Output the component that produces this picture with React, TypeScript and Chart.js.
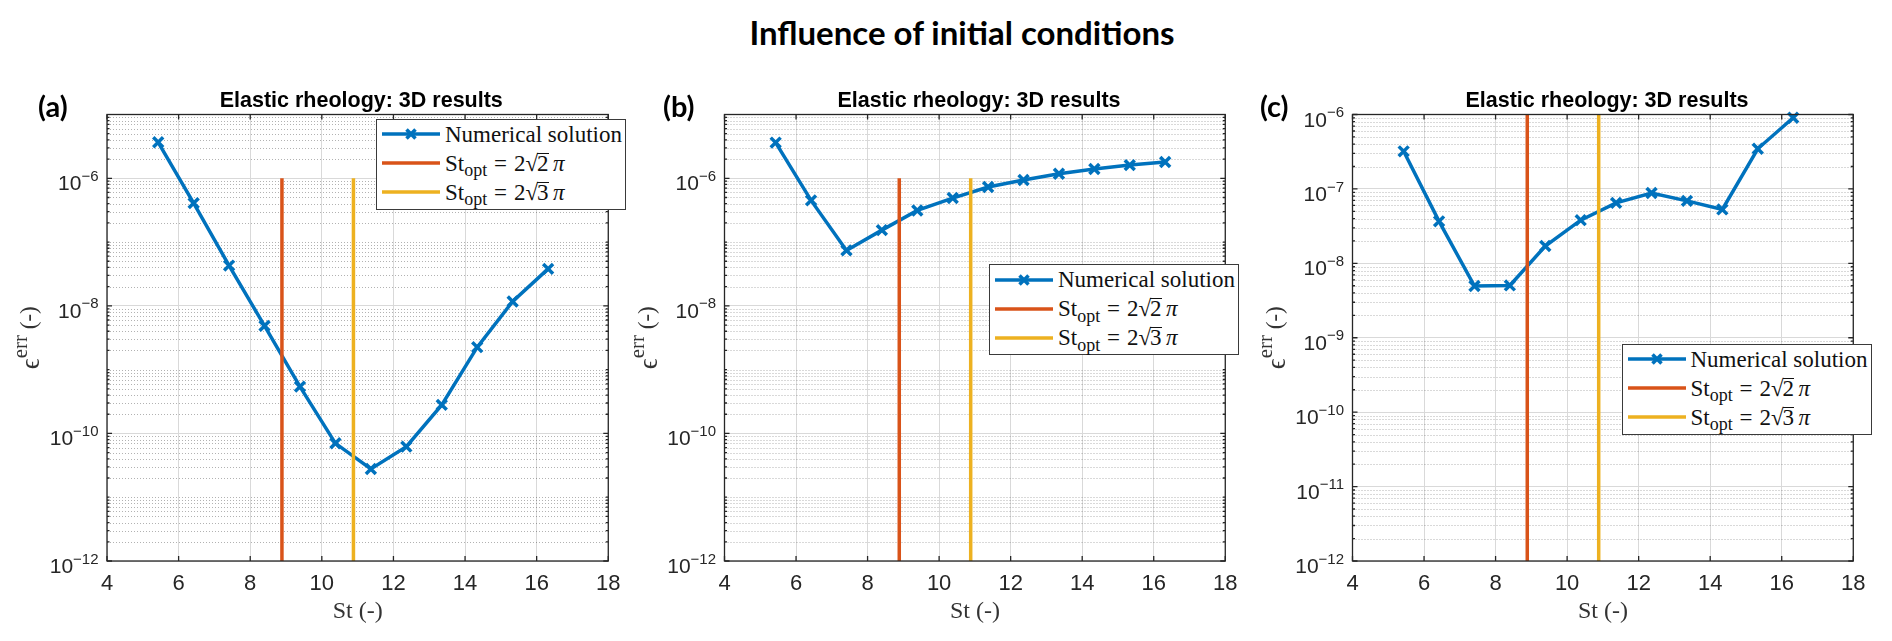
import React, { useEffect, useRef } from "react";
import { Chart, registerables } from "chart.js";

Chart.register(...registerables);

// ---------------- data ----------------
const stValues = [5.43, 6.42, 7.41, 8.4, 9.39, 10.38, 11.37, 12.36, 13.35, 14.34, 15.33, 16.32];
const errA = [3.67e-6, 4.08e-7, 4.28e-8, 4.85e-9, 5.42e-10, 7.0e-11, 2.77e-11, 6.2e-11, 2.8e-10, 2.25e-9, 1.17e-8, 3.8e-8];
const errB = [3.63e-6, 4.5e-7, 7.4e-8, 1.54e-7, 3.13e-7, 4.9e-7, 7.3e-7, 9.4e-7, 1.18e-6, 1.4e-6, 1.61e-6, 1.8e-6];
const errC = [3.2e-7, 3.67e-8, 4.95e-9, 5.05e-9, 1.71e-8, 3.8e-8, 6.5e-8, 8.8e-8, 6.9e-8, 5.3e-8, 3.46e-7, 9.05e-7];
const stOptSqrt2 = 8.886; // 2*sqrt(2)*pi
const stOptSqrt3 = 10.883; // 2*sqrt(3)*pi
const optLineBottom = 1e-12;
const optLineTop = 1e-6;

const xTickValues = [4, 6, 8, 10, 12, 14, 16, 18];
const yTicksEven = [1e-12, 1e-10, 1e-8, 1e-6];
const yTickExpEven = ["\u221212", "\u221210", "\u22128", "\u22126"];
const yTicksAll = [1e-12, 1e-11, 1e-10, 1e-9, 1e-8, 1e-7, 1e-6];
const yTickExpAll = ["\u221212", "\u221211", "\u221210", "\u22129", "\u22128", "\u22127", "\u22126"];

const mainTitle = "Influence of initial conditions";
const subplotTitle = "Elastic rheology: 3D results";
const panelLabels = ["(a)", "(b)", "(c)"];
const xAxisTitle = "St (-)";
const legendNumerical = "Numerical solution";
const legendRoots = ["2", "3"];

// ---------------- layout / style ----------------
const BLUE = "#0072BD";
const RED = "#D95319";
const YELLOW = "#EDB120";
const AXIS = "#262626";
const PLOT_TOP = 114.5;
const PLOT_BOTTOM = 561;
const CANVAS_TOP = 60;
const CANVAS_H = 581;
const CANVAS_W = 630;

type PanelSpec = {
  err: number[];
  yMax: number;
  yTicks: number[];
  yExp: string[];
  plotLeft: number;
  plotRight: number;
  canvasLeft: number;
  legendLeft: number;
  legendTop: number;
  labelLeft: number;
};

const PANELS: PanelSpec[] = [
  { err: errA, yMax: 1e-5, yTicks: yTicksEven, yExp: yTickExpEven, plotLeft: 107, plotRight: 615.5, canvasLeft: 0, legendLeft: 376, legendTop: 118.5, labelLeft: 38 },
  { err: errB, yMax: 1e-5, yTicks: yTicksEven, yExp: yTickExpEven, plotLeft: 724.5, plotRight: 1233.5, canvasLeft: 617, legendLeft: 989, legendTop: 264, labelLeft: 663 },
  { err: errC, yMax: 1e-6, yTicks: yTicksAll, yExp: yTickExpAll, plotLeft: 1352.5, plotRight: 1861.5, canvasLeft: 1245, legendLeft: 1621.5, legendTop: 343.5, labelLeft: 1260 },
];

function minorValues(minV: number, maxV: number, majors: number[]): number[] {
  const out: number[] = [];
  const e0 = Math.round(Math.log10(minV));
  const e1 = Math.round(Math.log10(maxV));
  for (let e = e0; e < e1; e++) {
    for (let k = 1; k < 10; k++) {
      const v = k * Math.pow(10, e);
      if (!majors.some((m) => Math.abs(m - v) / v < 1e-6)) out.push(v);
    }
  }
  return out;
}

const decorPlugin = {
  id: "decor",
  beforeDatasetsDraw(chart: any, _a: any, opts: any) {
    const { ctx, chartArea: a } = chart;
    const y = chart.scales.y;
    ctx.save();
    ctx.strokeStyle = "rgba(0,0,0,0.3)";
    ctx.lineWidth = 1;
    ctx.setLineDash([1, 2]);
    for (const v of opts.minor) {
      const py = Math.round(y.getPixelForValue(v)) + 0.5;
      ctx.beginPath();
      ctx.moveTo(a.left, py);
      ctx.lineTo(a.right, py);
      ctx.stroke();
    }
    ctx.restore();
  },
  afterDraw(chart: any, _a: any, opts: any) {
    const { ctx, chartArea: a } = chart;
    const x = chart.scales.x;
    const y = chart.scales.y;
    ctx.save();
    ctx.setLineDash([]);
    ctx.strokeStyle = AXIS;
    ctx.lineWidth = 1.3;
    ctx.strokeRect(a.left, a.top, a.right - a.left, a.bottom - a.top);
    ctx.beginPath();
    for (const v of opts.xTicks) {
      const px = x.getPixelForValue(v);
      ctx.moveTo(px, a.bottom);
      ctx.lineTo(px, a.bottom - 5);
      ctx.moveTo(px, a.top);
      ctx.lineTo(px, a.top + 5);
    }
    for (const v of opts.yTicks) {
      const py = y.getPixelForValue(v);
      ctx.moveTo(a.left, py);
      ctx.lineTo(a.left + 5, py);
      ctx.moveTo(a.right, py);
      ctx.lineTo(a.right - 5, py);
    }
    for (const v of opts.minor) {
      const py = y.getPixelForValue(v);
      ctx.moveTo(a.left, py);
      ctx.lineTo(a.left + 2.5, py);
      ctx.moveTo(a.right, py);
      ctx.lineTo(a.right - 2.5, py);
    }
    ctx.stroke();

    // y tick labels 10^n
    ctx.fillStyle = AXIS;
    ctx.textAlign = "right";
    ctx.textBaseline = "alphabetic";
    opts.yTicks.forEach((v: number, i: number) => {
      const py = y.getPixelForValue(v);
      const exp = opts.yExp[i];
      const xr = a.left - 8.5;
      ctx.font = '15px "Liberation Sans", Arial, sans-serif';
      ctx.fillText(exp, xr, py + 2.6);
      const ew = ctx.measureText(exp).width;
      ctx.font = '21px "Liberation Sans", Arial, sans-serif';
      ctx.fillText("10", xr - ew, py + 12);
    });

    // y axis title: eps^err (-)
    const cx = a.left - 77;
    const cy = (a.top + a.bottom) / 2;
    ctx.translate(cx, cy);
    ctx.rotate(-Math.PI / 2);
    ctx.textAlign = "left";
    ctx.textBaseline = "middle";
    ctx.fillStyle = "#333";
    const parts = [
      { t: "\u03F5", f: '27px "Liberation Serif", "DejaVu Serif", serif', dy: 2 },
      { t: "err", f: '21px "Liberation Serif", "DejaVu Serif", serif', dy: -9 },
      { t: " (-)", f: '23px "Liberation Serif", "DejaVu Serif", serif', dy: 0 },
    ];
    let total = 0;
    const widths = parts.map((p) => {
      ctx.font = p.f;
      const w = ctx.measureText(p.t).width;
      total += w;
      return w;
    });
    let px = -total / 2;
    parts.forEach((p, i) => {
      ctx.font = p.f;
      ctx.fillText(p.t, px, p.dy);
      px += widths[i];
    });
    ctx.restore();
  },
};

function LegendSample({ color, marker }: { color: string; marker?: boolean }) {
  return (
    <svg width={58} height={16} style={{ display: "block", flex: "none" }}>
      <line x1={0} y1={8} x2={58} y2={8} stroke={color} strokeWidth={3.5} />
      {marker && (
        <g stroke={color} strokeWidth={3.5}>
          <line x1={24.5} y1={3.5} x2={33.5} y2={12.5} />
          <line x1={24.5} y1={12.5} x2={33.5} y2={3.5} />
        </g>
      )}
    </svg>
  );
}

function OptLabel({ root }: { root: string }) {
  return (
    <span style={{ whiteSpace: "nowrap" }}>
      St
      <span style={{ fontSize: "0.78em", position: "relative", top: "0.32em" }}>opt</span>
      <span style={{ margin: "0 0.3em" }}>=</span>
      2
      <span>{"\u221A"}</span>
      <span style={{ display: "inline-block", borderTop: "1.4px solid #111", lineHeight: "0.82em", paddingTop: 1, marginLeft: -1 }}>{root}</span>
      <span style={{ fontStyle: "italic", marginLeft: "0.2em" }}>{"\u03C0"}</span>
    </span>
  );
}

function Legend({ left, top }: { left: number; top: number }) {
  const row: React.CSSProperties = { height: 29, display: "flex", alignItems: "center" };
  const text: React.CSSProperties = { marginLeft: 5, lineHeight: 1, whiteSpace: "nowrap" };
  return (
    <div
      style={{
        position: "absolute",
        left,
        top,
        width: 250,
        height: 91,
        boxSizing: "border-box",
        border: "1px solid #3a3a3a",
        background: "#fff",
        paddingLeft: 5,
        fontFamily: '"Liberation Serif", "Times New Roman", serif',
        fontSize: 23,
        color: "#111",
      }}
    >
      <div style={row}>
        <LegendSample color={BLUE} marker />
        <span style={text}>{legendNumerical}</span>
      </div>
      <div style={row}>
        <LegendSample color={RED} />
        <span style={text}>
          <OptLabel root={legendRoots[0]} />
        </span>
      </div>
      <div style={row}>
        <LegendSample color={YELLOW} />
        <span style={text}>
          <OptLabel root={legendRoots[1]} />
        </span>
      </div>
    </div>
  );
}

function Panel({ spec, index }: { spec: PanelSpec; index: number }) {
  const ref = useRef<HTMLCanvasElement>(null);
  useEffect(() => {
    const yWidth = spec.plotLeft - spec.canvasLeft;
    const plotW = spec.plotRight - spec.plotLeft;
    const padTop = PLOT_TOP - CANVAS_TOP;
    const xHeight = CANVAS_H - (PLOT_BOTTOM - CANVAS_TOP);
    const padRight = CANVAS_W - yWidth - plotW;
    const minor = minorValues(1e-12, spec.yMax, spec.yTicks);
    const chart = new Chart(ref.current!, {
      type: "line",
      data: {
        datasets: [
          {
            label: legendNumerical,
            data: stValues.map((s, i) => ({ x: s, y: spec.err[i] })),
            borderColor: BLUE,
            backgroundColor: BLUE,
            borderWidth: 3.5,
            pointStyle: "crossRot",
            pointRadius: 7,
            pointBorderWidth: 3.5,
            pointBorderColor: BLUE,
            clip: false as any,
            order: 3,
          },
          {
            label: "St_opt = 2\u221A2\u03C0",
            data: [
              { x: stOptSqrt2, y: optLineBottom },
              { x: stOptSqrt2, y: optLineTop },
            ],
            borderColor: RED,
            borderWidth: 3.5,
            pointRadius: 0,
            order: 2,
          },
          {
            label: "St_opt = 2\u221A3\u03C0",
            data: [
              { x: stOptSqrt3, y: optLineBottom },
              { x: stOptSqrt3, y: optLineTop },
            ],
            borderColor: YELLOW,
            borderWidth: 3.5,
            pointRadius: 0,
            order: 1,
          },
        ],
      },
      options: {
        responsive: false,
        animation: false,
        events: [],
        layout: { padding: { left: 0, top: padTop, right: padRight, bottom: 0 } },
        scales: {
          x: {
            type: "linear",
            min: 4,
            max: 18,
            afterBuildTicks: (s: any) => {
              s.ticks = xTickValues.map((v) => ({ value: v }));
            },
            afterFit: (s: any) => {
              s.height = xHeight;
            },
            ticks: {
              padding: 9.5,
              color: AXIS,
              font: { family: '"Liberation Sans", Arial, sans-serif', size: 22 },
            },
            grid: { color: "#d9d9d9", lineWidth: 1, drawTicks: false },
            border: { display: false },
            title: {
              display: true,
              text: xAxisTitle,
              color: "#333",
              font: { family: '"Liberation Serif", "Times New Roman", serif', size: 24 },
              padding: { top: 0, bottom: 15 },
            },
          },
          y: {
            type: "logarithmic",
            min: 1e-12,
            max: spec.yMax,
            afterBuildTicks: (s: any) => {
              s.ticks = spec.yTicks.map((v) => ({ value: v }));
            },
            afterFit: (s: any) => {
              s.width = yWidth;
            },
            ticks: { display: false },
            grid: { color: "#d9d9d9", lineWidth: 1, drawTicks: false },
            border: { display: false },
          },
        },
        plugins: {
          legend: { display: false },
          tooltip: { enabled: false },
          title: { display: false },
          decor: { minor, xTicks: xTickValues, yTicks: spec.yTicks, yExp: spec.yExp },
        } as any,
      },
      plugins: [decorPlugin as any],
    });
    return () => chart.destroy();
  }, [spec]);

  const center = (spec.plotLeft + spec.plotRight) / 2;
  return (
    <>
      <canvas
        ref={ref}
        width={CANVAS_W}
        height={CANVAS_H}
        style={{ position: "absolute", left: spec.canvasLeft, top: CANVAS_TOP, width: CANVAS_W, height: CANVAS_H }}
      />
      <div
        style={{
          position: "absolute",
          left: center - 250,
          width: 500,
          top: 90,
          textAlign: "center",
          fontFamily: '"Liberation Sans", Arial, sans-serif',
          fontWeight: 700,
          fontSize: 21.5,
          lineHeight: 1,
          color: "#000",
          whiteSpace: "nowrap",
        }}
      >
        {subplotTitle}
      </div>
      <div
        style={{
          position: "absolute",
          left: spec.labelLeft,
          top: 91,
          fontFamily: "Lato, 'Open Sans', sans-serif",
          fontWeight: 700,
          fontSize: 29,
          lineHeight: 1,
          color: "#000",
        }}
      >
        {panelLabels[index]}
      </div>
      <Legend left={spec.legendLeft} top={spec.legendTop} />
    </>
  );
}

export default function App() {
  return (
    <div style={{ position: "absolute", left: 0, top: 0, width: 1892, height: 641, background: "#fff", overflow: "hidden" }}>
      <div
        style={{
          position: "absolute",
          left: 962 - 500,
          width: 1000,
          top: 16,
          textAlign: "center",
          fontFamily: "Lato, 'Open Sans', sans-serif",
          fontWeight: 700,
          fontSize: 33,
          lineHeight: 1,
          color: "#000",
        }}
      >
        {mainTitle}
      </div>
      {PANELS.map((p, i) => (
        <Panel key={i} spec={p} index={i} />
      ))}
    </div>
  );
}
